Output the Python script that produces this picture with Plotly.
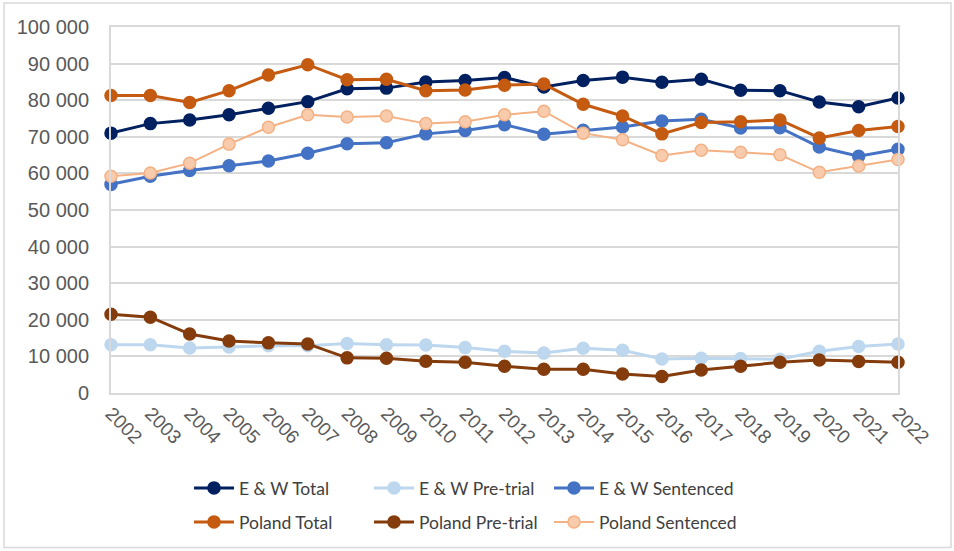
import plotly.graph_objects as go

years = list(range(2002, 2023))

ew_total = [71000, 73600, 74600, 76000, 77800, 79600, 83100, 83300, 85000, 85400, 86200,
            83600, 85400, 86300, 84900, 85700, 82700, 82600, 79500, 78200, 80600]
ew_pretrial = [13200, 13200, 12300, 12600, 12900, 12900, 13500, 13200, 13100, 12400, 11400,
               10900, 12200, 11700, 9300, 9500, 9400, 9200, 11400, 12700, 13400]
ew_sentenced = [57000, 59200, 60800, 62100, 63400, 65500, 68100, 68400, 70800, 71700, 73300,
                70700, 71800, 72700, 74300, 74800, 72400, 72500, 67200, 64700, 66600]
pl_total = [81300, 81300, 79400, 82600, 86900, 89700, 85600, 85700, 82600, 82800, 84100,
            84400, 78900, 75700, 70800, 73900, 74100, 74600, 69700, 71700, 72800]
pl_pretrial = [21500, 20700, 16100, 14200, 13700, 13400, 9600, 9500, 8700, 8400, 7300,
               6500, 6500, 5200, 4500, 6300, 7300, 8400, 9000, 8600, 8400]
pl_sentenced = [59200, 60100, 62800, 68000, 72600, 76000, 75400, 75700, 73600, 74100, 76000,
                77000, 71000, 69200, 64900, 66300, 65800, 65100, 60300, 62000, 63800]

series = [
    ("E & W Total", ew_total, "#002060", "#002060", "#002060", 3, "legend"),
    ("E & W Pre-trial", ew_pretrial, "#BDD7EE", "#BDD7EE", "#BDD7EE", 3, "legend"),
    ("E & W Sentenced", ew_sentenced, "#4472C4", "#4472C4", "#4472C4", 3, "legend3"),
    ("Poland Total", pl_total, "#C55A11", "#C55A11", "#C55A11", 3, "legend2"),
    ("Poland Pre-trial", pl_pretrial, "#843C0C", "#843C0C", "#843C0C", 3, "legend2"),
    ("Poland Sentenced", pl_sentenced, "#F4B183", "#F8CBAD", "#F4B183", 2, "legend4"),
]

fig = go.Figure()
for name, vals, lc, mfill, mline, lw, lg in series:
    fig.add_trace(go.Scatter(
        x=years, y=vals, name=name, mode="lines+markers",
        line=dict(color=lc, width=lw),
        marker=dict(size=12, color=mfill, line=dict(color=mline, width=1.5)),
        cliponaxis=False, legend=lg,
    ))

W, H = 954, 551
L, R, T, B = 111, 56, 27, 157
pw, ph = W - L - R, H - T - B

legend_font = dict(family="Lato, Open Sans, sans-serif", size=17.5, color="#404040")
common_leg = dict(orientation="h", xanchor="left", yanchor="middle",
                  font=legend_font, entrywidth=125, entrywidthmode="pixels",
                  bgcolor="rgba(0,0,0,0)", itemwidth=40, tracegroupgap=0)
single_leg = dict(orientation="h", xanchor="left", yanchor="middle",
                  font=legend_font, bgcolor="rgba(0,0,0,0)", itemwidth=40)

x_col1 = (189 - L) / pw
x_col3 = (549 - L) / pw
y_row1 = (T + ph - 488) / ph
y_row2 = (T + ph - 522) / ph

fig.update_layout(
    width=W, height=H,
    margin=dict(l=L, r=R, t=T, b=B),
    paper_bgcolor="white", plot_bgcolor="white",
    separators=", ",
    showlegend=True,
    legend=dict(x=x_col1, y=y_row1, **common_leg),
    legend2=dict(x=x_col1, y=y_row2, **common_leg),
    legend3=dict(x=x_col3, y=y_row1, **single_leg),
    legend4=dict(x=x_col3, y=y_row2, **single_leg),
    xaxis=dict(
        range=[2002, 2022], tickmode="array", tickvals=years,
        ticktext=[str(y) for y in years], tickangle=45,
        tickfont=dict(family="Liberation Sans, Arial, sans-serif", size=19, color="#595959"),
        showgrid=False, showline=True, linecolor="#D9D9D9", linewidth=2, mirror=True,
        ticks="", zeroline=False,
    ),
    yaxis=dict(
        range=[0, 100000], dtick=10000, tickformat=",d",
        tickfont=dict(family="Liberation Sans, Arial, sans-serif", size=20, color="#595959"),
        showgrid=True, gridcolor="#D9D9D9", gridwidth=1.5,
        showline=True, linecolor="#D9D9D9", linewidth=2, mirror=True,
        ticks="", zeroline=False, ticklabelstandoff=16,
    ),
    shapes=[dict(type="rect", xref="paper", yref="paper",
                 x0=(4 - L) / pw, x1=(951 - L) / pw,
                 y0=(T + ph - 549) / ph, y1=(T + ph - 3) / ph,
                 line=dict(color="#D9D9D9", width=1.5), fillcolor="rgba(0,0,0,0)",
                 layer="below")],
)

fig.write_html("out.html", config={"displayModeBar": False},
               post_script="document.body.style.margin='0';")
